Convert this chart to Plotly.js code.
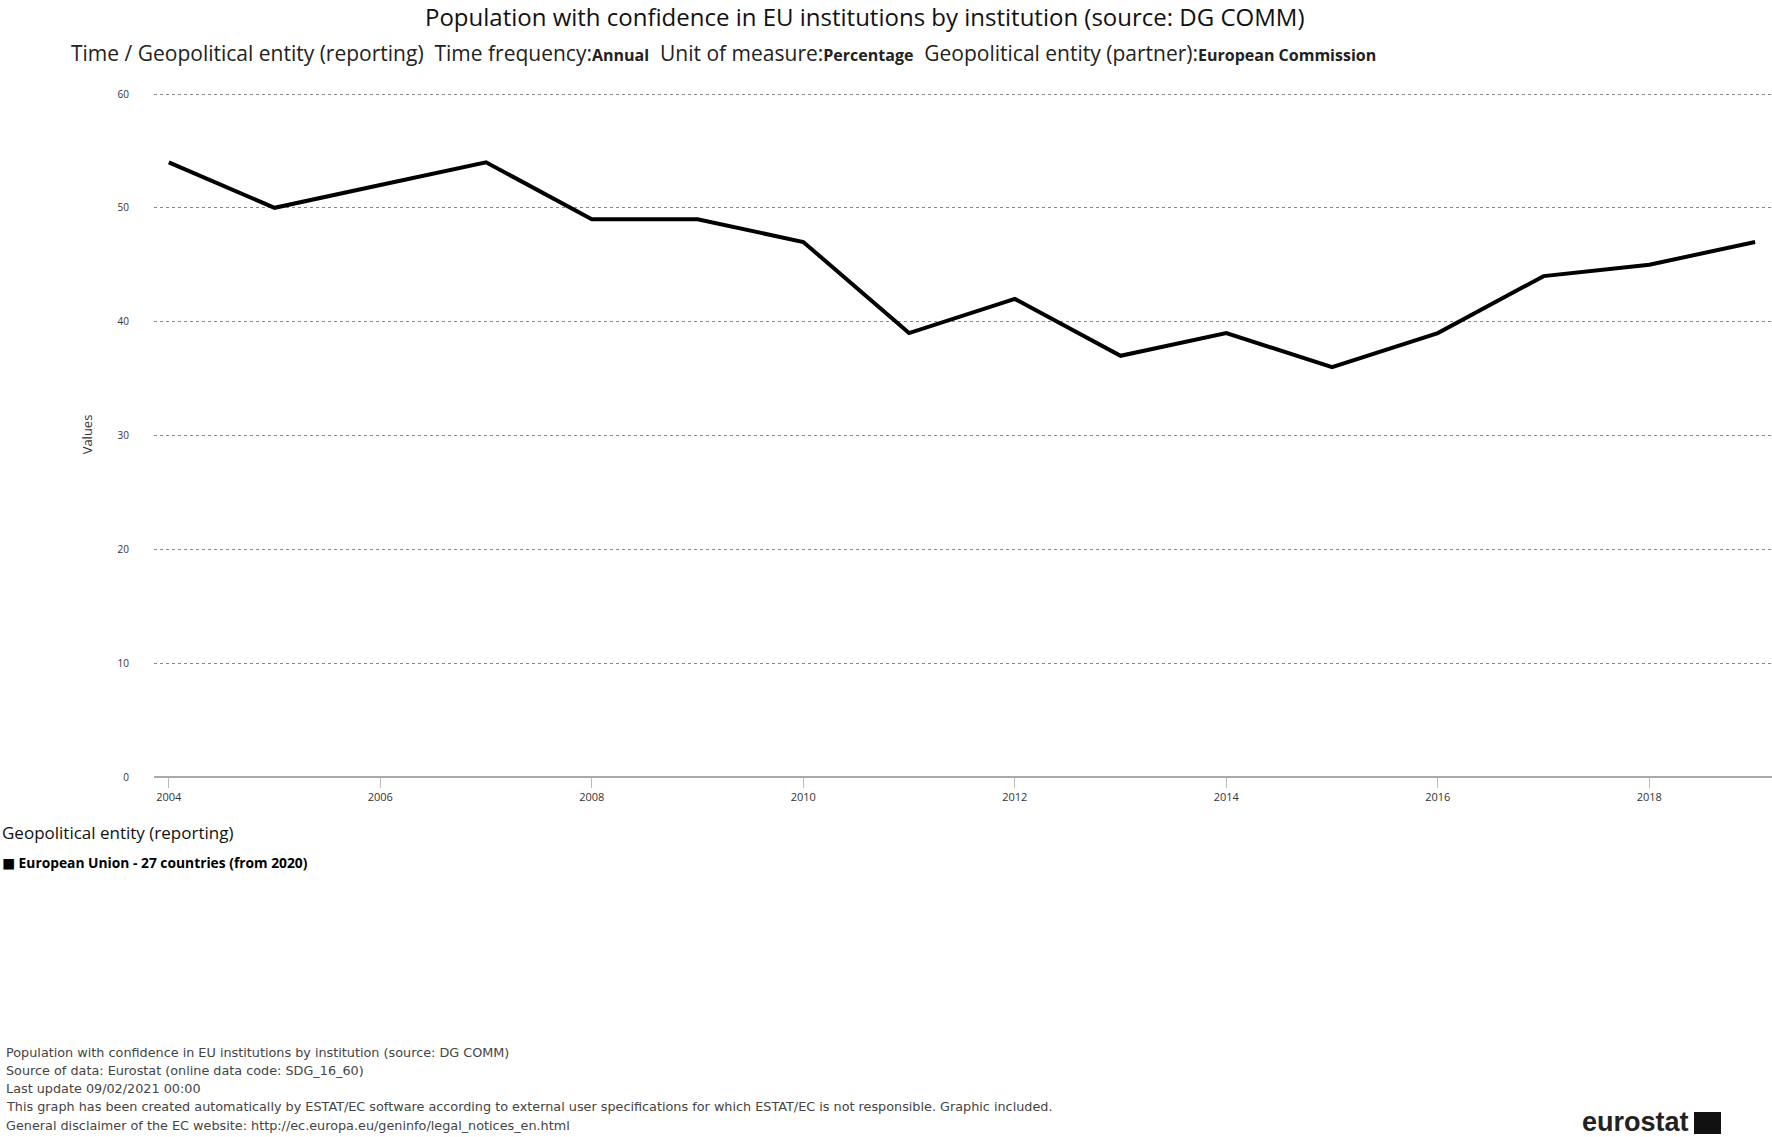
<!DOCTYPE html>
<html>
<head>
<meta charset="utf-8">
<script src="https://cdn.plot.ly/plotly-3.0.1.min.js"></script>
<style>
html,body{margin:0;padding:0;background:#fff;}
#chart{width:1772px;height:1137px;}
</style>
</head>
<body>
<div id="chart"></div>
<script>
const years = [2004,2005,2006,2007,2008,2009,2010,2011,2012,2013,2014,2015,2016,2017,2018,2019];
const euValues = [54,50,52,54,49,49,47,39,42,37,39,36,39,44,45,47];
const seriesName = 'European Union - 27 countries (from 2020)';
const legendTitle = 'Geopolitical entity (reporting)';
const xTicks = [2004,2006,2008,2010,2012,2014,2016,2018];
const yTicks = [0,10,20,30,40,50,60];

const F = 'Open Sans, DejaVu Sans, sans-serif';
const FD = 'DejaVu Sans, Open Sans, sans-serif';

const W = 1772, H = 1137;
const M = {l: 154, r: 0, t: 92, b: 360};
const pw = W - M.l - M.r, ph = H - M.t - M.b;
const yTop = 60 + 60 * 2 / (H - 94 - M.b); // a hair above 60 so the top grid line is drawn
function px(x){ return (x - M.l) / pw; }
function py(y){ return (H - M.b - y) / ph; }

const traces = [
  {x: years, y: euValues, type: 'scatter', mode: 'lines',
   line: {color: '#000', width: 4}, showlegend: false, name: seriesName}
];

const footer = [
  'Population with confidence in EU institutions by institution (source: DG COMM)',
  'Source of data: Eurostat (online data code: SDG_16_60)',
  'Last update 09/02/2021 00:00',
  'This graph has been created automatically by ESTAT/EC software according to external user specifications for which ESTAT/EC is not responsible. Graphic included.',
  'General disclaimer of the EC website: http://ec.europa.eu/geninfo/legal_notices_en.html'
];

function ann(text, x, y, size, family, color, extra){
  return Object.assign({text: text, xref: 'paper', yref: 'paper', x: px(x), y: py(y),
    showarrow: false, xanchor: 'left', yanchor: 'middle',
    font: {family: family, size: size, color: color}}, extra || {});
}

const annotations = [
  ann('Time / Geopolitical entity (reporting)  Time frequency:<b><span style="font-size:16px">Annual</span></b>  Unit of measure:<b><span style="font-size:16px">Percentage</span></b>  Geopolitical entity (partner):<b><span style="font-size:16px">European Commission</span></b>',
      69, 53, 21, F, '#222'),
  ann(legendTitle, 0, 832, 17, F, '#111'),
  ann('<b>■ ' + seriesName + '</b>', 0, 862, 13.8, F, '#000'),
  ann('<b>eurostat</b>', 1580, 1122, 27, 'Liberation Sans, Arial, sans-serif', '#222')
];
footer.forEach((t, i) => annotations.push(ann(t, 4, 1052 + i * 18.3, 12.8, FD, '#444')));

const layout = {
  width: W, height: H,
  margin: M,
  paper_bgcolor: '#fff', plot_bgcolor: '#fff',
  font: {family: F, color: '#222'},
  title: {text: 'Population with confidence in EU institutions by institution (source: DG COMM)',
          x: 0.488, xref: 'container', y: 1 - 18/H, yref: 'container', yanchor: 'middle',
          automargin: false,
          font: {family: F, size: 24, color: '#111'}},
  xaxis: {range: [2003.86, 2019.16], tickvals: xTicks, ticks: 'outside', ticklen: 10,
          tickcolor: '#bbb', tickwidth: 1, showgrid: false, zeroline: false, automargin: false,
          showline: false, tickfont: {family: F, size: 11, color: '#333'}},
  yaxis: {range: [0, yTop], tickvals: yTicks, showgrid: true, gridcolor: '#888', griddash: 'dot',
          gridwidth: 1, zeroline: true, zerolinecolor: '#aaa', zerolinewidth: 2, automargin: false,
          ticks: '', ticklabelstandoff: 24, tickfont: {family: F, size: 10, color: '#333'},
          title: {text: 'Values', font: {family: F, size: 13, color: '#333'}, standoff: 22}},
  showlegend: false,
  annotations: annotations,
  shapes: [
    {type: 'rect', xref: 'paper', yref: 'paper', x0: px(1694), x1: px(1721), y0: py(1134), y1: py(1112),
     fillcolor: '#111', line: {width: 0}}
  ]
};

Plotly.newPlot('chart', traces, layout, {displayModeBar: false, staticPlot: true});
</script>
</body>
</html>
